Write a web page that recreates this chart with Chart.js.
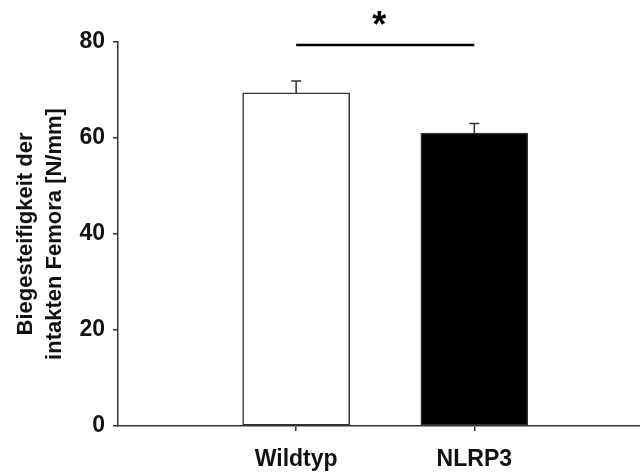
<!DOCTYPE html>
<html>
<head>
<meta charset="utf-8">
<script src="https://cdn.jsdelivr.net/npm/chart.js@4"></script>
<style>
  html, body { margin: 0; padding: 0; background: #fff; }
  #wrap { width: 640px; height: 472px; }
</style>
</head>
<body>
<div id="wrap"><canvas id="chart" width="640" height="472"></canvas></div>
<script>
// data
const categories = ['Wildtyp', 'NLRP3'];
const positions = [1, 2];
const means = [69.4, 61.0];
const errors = [2.5, 2.0];
const fills = ['#ffffff', '#000000'];
const yTicks = [0, 20, 40, 60, 80];
const sigLevel = 79.4;     // significance bar height
const sigMark = '*';

const axisColor = '#333333';
const font = { family: '"Liberation Sans", Arial, sans-serif', size: 23, weight: 'bold' };

// error bars (upper only) + significance bracket
const annotations = {
    id: 'annotations',
    afterDatasetsDraw(chart) {
        const ctx = chart.ctx;
        const xs = chart.scales.x;
        const ys = chart.scales.y;
        ctx.save();
        ctx.strokeStyle = axisColor;
        ctx.lineWidth = 1.5;
        means.forEach(function(m, i) {
            const x = xs.getPixelForValue(positions[i]);
            const y0 = ys.getPixelForValue(m);
            const y1 = ys.getPixelForValue(m + errors[i]);
            ctx.beginPath();
            ctx.moveTo(x, y0);
            ctx.lineTo(x, y1);
            ctx.moveTo(x - 5, y1);
            ctx.lineTo(x + 5, y1);
            ctx.stroke();
        });

        const xa = xs.getPixelForValue(positions[0]);
        const xb = xs.getPixelForValue(positions[1]);
        const ys0 = ys.getPixelForValue(sigLevel);
        ctx.strokeStyle = '#000';
        ctx.lineWidth = 2.5;
        ctx.beginPath();
        ctx.moveTo(xa, ys0);
        ctx.lineTo(xb, ys0);
        ctx.stroke();

        ctx.fillStyle = '#000';
        ctx.font = 'bold 36px "Liberation Sans", Arial, sans-serif';
        ctx.textAlign = 'center';
        ctx.textBaseline = 'alphabetic';
        ctx.fillText(sigMark, (xa + xb) / 2 - 6, ys0 - 8);
        ctx.restore();
    }
};

new Chart(document.getElementById('chart').getContext('2d'), {
    type: 'bar',
    data: {
        datasets: [{
            data: positions.map(function(p, i) { return { x: p, y: means[i] }; }),
            backgroundColor: fills,
            borderColor: axisColor,
            borderWidth: 1.5,
            borderSkipped: false,
            barThickness: 107
        }]
    },
    options: {
        responsive: false,
        animation: false,
        events: [],
        layout: { padding: { top: 42, right: 0, bottom: 0, left: 0 } },
        plugins: {
            legend: { display: false },
            tooltip: { enabled: false }
        },
        scales: {
            x: {
                type: 'linear',
                min: 0,
                max: 2.93,
                offset: false,
                bounds: 'data',
                afterBuildTicks: function(scale) {
                    scale.ticks = positions.map(function(p) { return { value: p }; });
                },
                afterFit: function(scale) { scale.height = 46; },
                ticks: {
                    color: '#111',
                    font: font,
                    padding: 15,
                    maxRotation: 0,
                    autoSkip: false,
                    callback: function(v) {
                        const i = positions.indexOf(v);
                        return i >= 0 ? categories[i] : '';
                    }
                },
                grid: {
                    offset: false,
                    drawOnChartArea: false,
                    drawTicks: true,
                    tickLength: 5,
                    color: axisColor,
                    lineWidth: 1.5
                },
                border: { display: true, color: axisColor, width: 1.5 }
            },
            y: {
                min: 0,
                max: 80,
                afterBuildTicks: function(scale) {
                    scale.ticks = yTicks.map(function(v) { return { value: v }; });
                },
                afterFit: function(scale) { scale.width = 118; },
                ticks: {
                    color: '#111',
                    font: font,
                    padding: 8
                },
                grid: {
                    drawOnChartArea: false,
                    drawTicks: true,
                    tickLength: 5,
                    color: axisColor,
                    lineWidth: 1.5
                },
                border: { display: true, color: axisColor, width: 1.5 },
                title: {
                    display: true,
                    text: ['Biegesteifigkeit der', 'intakten Femora [N/mm]'],
                    color: '#111',
                    font: { family: font.family, size: 22, weight: 'bold', lineHeight: 1.3 },
                    padding: { top: 12, bottom: 0 }
                }
            }
        }
    },
    plugins: [annotations]
});
</script>
</body>
</html>
